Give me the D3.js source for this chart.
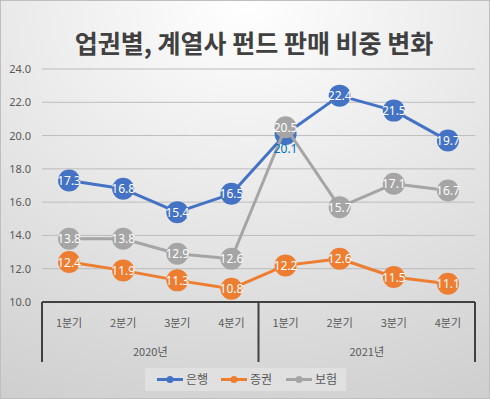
<!DOCTYPE html>
<html>
<head>
<meta charset="utf-8">
<script src="https://cdn.jsdelivr.net/npm/d3@7"></script>
<style>
  html, body { margin: 0; padding: 0; background: #fff; }
  svg { display: block; font-family: "Noto Sans CJK KR", "Noto Sans", sans-serif; }
</style>
</head>
<body>
<svg id="chart" width="490" height="399"></svg>
<script>
const title = "업권별, 계열사 펀드 판매 비중 변화";
const quarters = ["1분기", "2분기", "3분기", "4분기", "1분기", "2분기", "3분기", "4분기"];
const years = ["2020년", "2021년"];
const bank = [17.3, 16.8, 15.4, 16.5, 20.1, 22.4, 21.5, 19.7];
const securities = [12.4, 11.9, 11.3, 10.8, 12.2, 12.6, 11.5, 11.1];
const insurance = [13.8, 13.8, 12.9, 12.6, 20.5, 15.7, 17.1, 16.7];
const yTicks = [10, 12, 14, 16, 18, 20, 22, 24];

const series = [
  { name: "은행", values: bank, color: "#4472c4" },
  { name: "증권", values: securities, color: "#ed7d31" },
  { name: "보험", values: insurance, color: "#a5a5a5" }
];

const width = 490, height = 399;
const margin = { top: 69, right: 15, bottom: 97, left: 42 };

const svg = d3.select("#chart");

// 배경 그라데이션
const defs = svg.append("defs");
const grad = defs.append("radialGradient")
  .attr("id", "bg")
  .attr("cx", "50%").attr("cy", "0%").attr("r", "110%")
  .attr("fx", "50%").attr("fy", "0%");
grad.append("stop").attr("offset", "0%").attr("stop-color", "#ffffff");
grad.append("stop").attr("offset", "100%").attr("stop-color", "#cfcfcf");

svg.append("rect")
  .attr("x", 0.5).attr("y", 0.5)
  .attr("width", width - 1).attr("height", height - 1)
  .attr("fill", "url(#bg)")
  .attr("stroke", "#bfbfbf");

svg.append("text")
  .attr("x", 254).attr("y", 53)
  .attr("text-anchor", "middle")
  .attr("font-size", 25)
  .attr("font-weight", "bold")
  .attr("fill", "#404040")
  .text(title);

const x = d3.scaleBand()
  .domain(d3.range(quarters.length))
  .range([margin.left, width - margin.right]);

const y = d3.scaleLinear()
  .domain([10, 24])
  .range([height - margin.bottom, margin.top]);

// 그리드
svg.append("g")
  .selectAll("line")
  .data(yTicks.filter(d => d > 10))
  .join("line")
  .attr("x1", margin.left).attr("x2", width - margin.right)
  .attr("y1", d => y(d)).attr("y2", d => y(d))
  .attr("stroke", "#bcbcbc")
  .attr("stroke-width", 1);

// y축
svg.append("g")
  .attr("transform", `translate(${margin.left - 11},0)`)
  .call(d3.axisLeft(y).tickValues(yTicks).tickFormat(d3.format(".1f")).tickSize(0).tickPadding(0))
  .call(g => g.select(".domain").remove())
  .call(g => g.selectAll(".tick text")
    .attr("font-family", "'Noto Sans', sans-serif")
    .attr("font-size", 11)
    .attr("fill", "#595959"));

// x축 (다단계 카테고리)
const axisG = svg.append("g");
const baseY = y(10);
const bottomY = baseY + 60;
axisG.append("line")
  .attr("x1", margin.left).attr("x2", width - margin.right)
  .attr("y1", baseY).attr("y2", baseY)
  .attr("stroke", "#404040").attr("stroke-width", 2);
[0, 4, 8].forEach(i => {
  const xx = i === 8 ? width - margin.right : x(i);
  axisG.append("line")
    .attr("x1", xx).attr("x2", xx)
    .attr("y1", baseY).attr("y2", bottomY)
    .attr("stroke", "#404040").attr("stroke-width", 2);
});
axisG.selectAll("text.q")
  .data(quarters)
  .join("text")
  .attr("class", "q")
  .attr("x", (d, i) => x(i) + x.bandwidth() / 2)
  .attr("y", baseY + 25)
  .attr("text-anchor", "middle")
  .attr("font-size", 11)
  .attr("fill", "#595959")
  .text(d => d);
axisG.selectAll("text.y")
  .data(years)
  .join("text")
  .attr("class", "y")
  .attr("x", (d, i) => x(i * 4) + x.bandwidth() * 2)
  .attr("y", baseY + 54)
  .attr("text-anchor", "middle")
  .attr("font-size", 11)
  .attr("fill", "#595959")
  .text(d => d);

const line = d3.line()
  .x((d, i) => x(i) + x.bandwidth() / 2)
  .y(d => y(d));

// 시리즈
series.forEach(s => {
  const g = svg.append("g");
  g.append("path")
    .datum(s.values)
    .attr("d", line)
    .attr("fill", "none")
    .attr("stroke", s.color)
    .attr("stroke-width", 3)
    .attr("stroke-linejoin", "round");
  g.selectAll("circle")
    .data(s.values)
    .join("circle")
    .attr("cx", (d, i) => x(i) + x.bandwidth() / 2)
    .attr("cy", d => y(d))
    .attr("r", 11)
    .attr("fill", s.color);
});

// 데이터 레이블
series.forEach(s => {
  svg.append("g")
    .selectAll("text")
    .data(s.values)
    .join("text")
    .attr("x", (d, i) => x(i) + x.bandwidth() / 2)
    .attr("y", (d, i) => (s.name === "은행" && i === 4) ? y(d) + 19 : y(d) + 4.5)
    .attr("text-anchor", "middle")
    .attr("font-family", "'Noto Sans', sans-serif")
    .attr("font-size", 12)
    .attr("fill", (d, i) => (s.name === "은행" && i === 4) ? "#0070c0" : "#ffffff")
    .text(d => d.toFixed(1));
});

// 범례
const legend = svg.append("g");
legend.append("rect")
  .attr("x", 145).attr("y", 368)
  .attr("width", 201).attr("height", 23)
  .attr("fill", "#e0e0e0");
const legendX = [157, 221, 286];
series.forEach((s, i) => {
  const lx = legendX[i];
  legend.append("line")
    .attr("x1", lx).attr("x2", lx + 26)
    .attr("y1", 379.5).attr("y2", 379.5)
    .attr("stroke", s.color).attr("stroke-width", 3);
  legend.append("circle")
    .attr("cx", lx + 13).attr("cy", 379.5).attr("r", 3.5)
    .attr("fill", s.color);
  legend.append("text")
    .attr("x", lx + 29).attr("y", 384)
    .attr("font-size", 12)
    .attr("fill", "#595959")
    .text(s.name);
});
</script>
</body>
</html>
